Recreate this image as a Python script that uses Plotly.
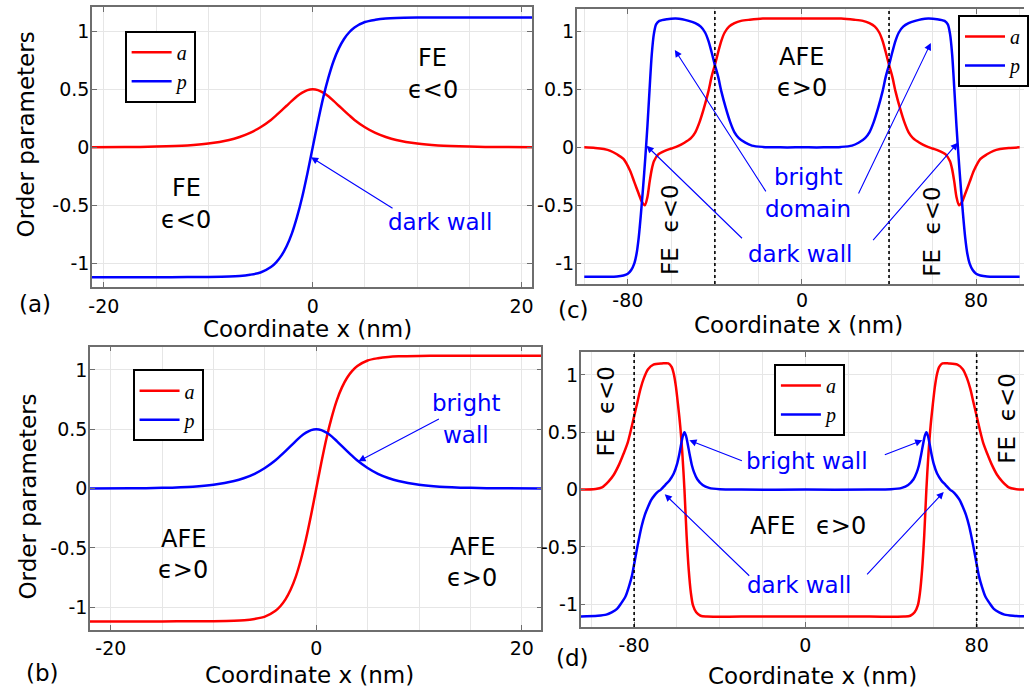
import plotly.graph_objects as go

W, H = 1029, 692
RED = "#ff0000"
BLUE = "#0000ff"
FONT = "DejaVu Sans"
GRID = "#e6e6e6"
AXIS = "#6e6e6e"

# ---------------- panel (a): FE | FE with a dark wall ----------------
x_a = [-21.2, -18, -15, -12, -10, -8, -7, -6, -5, -4, -3.5, -3, -2.5, -2, -1.5, -1, -0.5, 0,
       0.5, 1, 1.5, 2, 2.5, 3, 3.5, 4, 5, 6, 7, 8, 10, 12, 15, 18, 21.2]
a_a = [0.001, 0.002, 0.006, 0.016, 0.032, 0.063, 0.089, 0.124, 0.173, 0.236, 0.275, 0.316, 0.358,
       0.400, 0.440, 0.471, 0.493, 0.500, 0.493, 0.471, 0.440, 0.400, 0.358, 0.316, 0.275, 0.236,
       0.173, 0.124, 0.089, 0.063, 0.032, 0.016, 0.006, 0.002, 0.001]
p_a = [-1.12, -1.12, -1.12, -1.119, -1.118, -1.115, -1.11, -1.099, -1.08, -1.033, -0.992, -0.934,
       -0.853, -0.744, -0.600, -0.426, -0.221, 0.0, 0.221, 0.426, 0.600, 0.744, 0.853, 0.934, 0.992,
       1.033, 1.08, 1.099, 1.11, 1.115, 1.118, 1.119, 1.12, 1.12, 1.12]

# ---------------- panel (b): AFE | AFE with a bright wall ----------------
x_b = [-22.2, -18, -15, -12, -10, -8, -7, -6, -5, -4, -3.5, -3, -2.5, -2, -1.5, -1, -0.5, 0,
       0.5, 1, 1.5, 2, 2.5, 3, 3.5, 4, 5, 6, 7, 8, 10, 12, 15, 18, 22.2]
a_b = [-1.12, -1.12, -1.12, -1.119, -1.118, -1.115, -1.11, -1.099, -1.08, -1.033, -0.992, -0.934,
       -0.853, -0.744, -0.600, -0.426, -0.221, 0.0, 0.221, 0.426, 0.600, 0.744, 0.853, 0.934, 0.992,
       1.033, 1.08, 1.099, 1.11, 1.115, 1.118, 1.119, 1.12, 1.12, 1.12]
p_b = [0.001, 0.002, 0.006, 0.016, 0.032, 0.063, 0.089, 0.124, 0.173, 0.236, 0.275, 0.316, 0.358,
       0.400, 0.440, 0.471, 0.493, 0.500, 0.493, 0.471, 0.440, 0.400, 0.358, 0.316, 0.275, 0.236,
       0.173, 0.124, 0.089, 0.063, 0.032, 0.016, 0.006, 0.002, 0.001]

# ---------------- panel (c): FE | AFE | FE, bright domain ----------------
x_c_a = [-100, -95, -91, -88, -85, -82, -79, -77, -75, -73.5, -72.2, -71, -70, -69, -68, -66, -63,
         -60, -57, -54, -51, -49, -47, -45, -43, -41.5, -40, -38.5, -37, -35.5, -33.5, -31, -28,
         -24, -18, -10, 0, 10, 18, 24, 28, 31, 33.5, 35.5, 37, 38.5, 40, 41.5, 43, 45, 47, 49, 51,
         54, 57, 60, 63, 66, 68, 69, 70, 71, 72.2, 73.5, 75, 77, 79, 82, 85, 88, 91, 95, 100]
a_c = [0.0, -0.005, -0.015, -0.03, -0.06, -0.10, -0.20, -0.30, -0.40, -0.47, -0.50, -0.43, -0.30,
       -0.19, -0.12, -0.06, -0.03, -0.01, 0.01, 0.04, 0.08, 0.13, 0.22, 0.34, 0.48, 0.61, 0.71,
       0.82, 0.92, 0.99, 1.04, 1.07, 1.09, 1.10, 1.11, 1.11, 1.11, 1.11, 1.11, 1.10, 1.09, 1.07,
       1.04, 0.99, 0.92, 0.82, 0.71, 0.61, 0.48, 0.34, 0.22, 0.13, 0.08, 0.04, 0.01, -0.01, -0.03,
       -0.06, -0.12, -0.19, -0.30, -0.43, -0.50, -0.47, -0.40, -0.30, -0.20, -0.10, -0.06, -0.03,
       -0.015, -0.005, 0.0]
x_c_p = [-100, -90, -85, -82, -80, -78.5, -77, -76, -75, -74, -73, -72, -71, -70, -69, -68, -67,
         -65.5, -62, -58, -55, -52, -49, -46.5, -44.5, -43, -41.5, -40, -38.5, -37, -35, -33, -31,
         -29, -26, -23, -18, -10, 0, 10, 18, 23, 26, 29, 31, 33, 35, 37, 38.5, 40, 41.5, 43, 44.5,
         46.5, 49, 52, 55, 58, 62, 65.5, 67, 68, 69, 70, 71, 72, 73, 74, 75, 76, 77, 78.5, 80, 82,
         85, 90, 100]
p_c = [-1.116, -1.116, -1.114, -1.105, -1.09, -1.06, -1.00, -0.92, -0.78, -0.58, -0.35, -0.10,
       0.18, 0.50, 0.80, 0.98, 1.06, 1.09, 1.105, 1.11, 1.105, 1.09, 1.07, 1.04, 0.99, 0.92, 0.82,
       0.71, 0.61, 0.48, 0.34, 0.22, 0.13, 0.08, 0.04, 0.015, 0.004, 0.0, 0.0, 0.0, 0.004, 0.015,
       0.04, 0.08, 0.13, 0.22, 0.34, 0.48, 0.61, 0.71, 0.82, 0.92, 0.99, 1.04, 1.07, 1.09, 1.105,
       1.11, 1.105, 1.09, 1.06, 0.98, 0.80, 0.50, 0.18, -0.10, -0.35, -0.58, -0.78, -0.92, -1.00,
       -1.06, -1.09, -1.105, -1.114, -1.116, -1.116]

# ---------------- panel (d): FE | AFE | FE, bright and dark walls ----------------
x_d_a = [-105, -98, -95, -92, -89.5, -87, -85, -83, -81.5, -80, -78.5, -77, -75.5, -73.5, -71, -67,
         -64, -62.5, -61.5, -60.5, -59.5, -58.5, -57.5, -56.5, -55.5, -54.5, -53.5, -52.5, -51, -49,
         -46, -30, 0, 30, 46, 49, 51, 52.5, 53.5, 54.5, 55.5, 56.5, 57.5, 58.5, 59.5, 60.5, 61.5,
         62.5, 64, 67, 71, 73.5, 75.5, 77, 78.5, 80, 81.5, 83, 85, 87, 89.5, 92, 95, 98, 105]
a_d = [0.0, 0.005, 0.02, 0.07, 0.13, 0.22, 0.31, 0.41, 0.52, 0.64, 0.76, 0.88, 0.97, 1.05, 1.09,
       1.10, 1.10, 1.07, 1.01, 0.90, 0.74, 0.56, 0.32, 0.0, -0.40, -0.70, -0.90, -1.01, -1.07,
       -1.10, -1.107, -1.107, -1.107, -1.107, -1.107, -1.10, -1.07, -1.01, -0.90, -0.70, -0.40,
       0.0, 0.32, 0.56, 0.74, 0.90, 1.01, 1.07, 1.10, 1.10, 1.09, 1.05, 0.97, 0.88, 0.76, 0.64,
       0.52, 0.41, 0.31, 0.22, 0.13, 0.07, 0.02, 0.005, 0.0]
x_d_p = [-105, -97, -93, -90.5, -88, -86, -84, -82.5, -81, -80, -78.5, -76.5, -75, -73.5, -72,
         -70.5, -69, -67.5, -65.5, -63.5, -61.5, -60, -59, -58, -57.2, -56.5, -55.8, -55, -54, -53,
         -52, -50.5, -48, -45, -40, -30, 0, 30, 40, 45, 48, 50.5, 52, 53, 54, 55, 55.8, 56.5, 57.2,
         58, 59, 60, 61.5, 63.5, 65.5, 67.5, 69, 70.5, 72, 73.5, 75, 76.5, 78.5, 80, 81, 82.5, 84,
         86, 88, 90.5, 93, 97, 105]
p_d = [-1.107, -1.10, -1.09, -1.07, -1.04, -0.99, -0.93, -0.85, -0.75, -0.65, -0.50, -0.32, -0.22,
       -0.15, -0.09, -0.05, -0.02, 0.0, 0.04, 0.08, 0.14, 0.22, 0.30, 0.40, 0.47, 0.50, 0.47, 0.40,
       0.30, 0.21, 0.15, 0.09, 0.04, 0.015, 0.003, 0.0, 0.0, 0.0, 0.003, 0.015, 0.04, 0.09, 0.15,
       0.21, 0.30, 0.40, 0.47, 0.50, 0.47, 0.40, 0.30, 0.22, 0.14, 0.08, 0.04, 0.0, -0.02, -0.05,
       -0.09, -0.15, -0.22, -0.32, -0.50, -0.65, -0.75, -0.85, -0.93, -0.99, -1.04, -1.07, -1.09,
       -1.10, -1.107]

# phase boundaries drawn as dotted verticals
walls_c = [-40, 40]
walls_d = [-80, 80]

# tick labels
y_ticks = [-1, -0.5, 0, 0.5, 1]
y_tick_text = ["-1", "-0.5", "0", "0.5", "1"]
x_ticks_short = [-20, 0, 20]
x_ticks_long = [-80, 0, 80]


def fx(px):
    return px / W


def fy(py):
    return 1 - py / H


# subplot frames in pixels (left, right, top, bottom) and axis ranges
frames = {
    "": dict(box=(88.7, 532.7, 7.3, 286.7), xr=[-21.14, 21.0], yr=[-1.202, 1.207],
             xt=x_ticks_short, minor=5, right=True, xstand=2),
    "2": dict(box=(86.7, 542.0, 346.7, 629.7), xr=[-22.03, 21.9], yr=[-1.19, 1.196],
              xt=x_ticks_short, minor=5, right=True, xstand=1),
    "3": dict(box=(577.7, 1029, 9.3, 284.0), xr=[-103.5, 102.0], yr=[-1.178, 1.19],
              xt=x_ticks_long, minor=20, right=False, xstand=-2),
    "4": dict(box=(581.7, 1029, 352.0, 627.0), xr=[-105.0, 102.1], yr=[-1.198, 1.2],
              xt=x_ticks_long, minor=20, right=False, xstand=0),
}

fig = go.Figure()

series = [
    ("", "legend", x_a, a_a, x_a, p_a),
    ("2", "legend2", x_b, a_b, x_b, p_b),
    ("3", "legend3", x_c_a, a_c, x_c_p, p_c),
    ("4", "legend4", x_d_a, a_d, x_d_p, p_d),
]
for sfx, leg, xa, ya, xp, yp in series:
    fig.add_trace(go.Scatter(x=xa, y=ya, name="a", mode="lines", legend=leg,
                             line=dict(color=RED, width=2.5, shape="spline", smoothing=0.8),
                             xaxis="x" + sfx, yaxis="y" + sfx))
    fig.add_trace(go.Scatter(x=xp, y=yp, name="p", mode="lines", legend=leg,
                             line=dict(color=BLUE, width=2.5, shape="spline", smoothing=0.8),
                             xaxis="x" + sfx, yaxis="y" + sfx))

tickfont = dict(family=FONT, size=19, color="black")
layout_axes = {}
for sfx, f in frames.items():
    l, r, t, b = f["box"]
    layout_axes["xaxis" + sfx] = dict(
        domain=[fx(l), fx(r)], range=f["xr"], anchor="y" + sfx,
        tickvals=f["xt"], ticktext=[str(v) for v in f["xt"]],
        ticks="inside", ticklen=5, tickcolor=AXIS, tickwidth=1,
        showline=True, linecolor=AXIS, linewidth=1.5, mirror="ticks",
        showgrid=True, gridcolor=GRID, gridwidth=1, zeroline=False,
        minor=dict(dtick=f["minor"], tick0=0, showgrid=True, gridcolor=GRID, ticks=""),
        tickfont=tickfont, ticklabelstandoff=f["xstand"], fixedrange=True,
    )
    layout_axes["yaxis" + sfx] = dict(
        domain=[fy(b), fy(t)], range=f["yr"], anchor="x" + sfx,
        tickvals=y_ticks, ticktext=y_tick_text,
        ticks="inside", ticklen=5, tickcolor=AXIS, tickwidth=1,
        showline=True, linecolor=AXIS, linewidth=1.5,
        mirror="ticks" if f["right"] else False,
        showgrid=True, gridcolor=GRID, gridwidth=1, zeroline=False,
        tickfont=tickfont, ticklabelstandoff=-3, fixedrange=True,
    )

shapes = []
for sfx, walls in (("3", walls_c), ("4", walls_d)):
    for xv in walls:
        shapes.append(dict(type="line", xref="x" + sfx, yref="y" + sfx + " domain",
                           x0=xv, x1=xv, y0=0, y1=1,
                           line=dict(color="black", width=1.6, dash="dot")))

ann = []


def text(sfx, x, y, s, color="black", size=23, angle=0):
    ann.append(dict(xref="x" + sfx, yref="y" + sfx, x=x, y=y, text=s, showarrow=False,
                    textangle=angle, font=dict(family=FONT, size=size, color=color),
                    xanchor="center", yanchor="middle"))


def arrow(sfx, x, y, dx, dy):
    ann.append(dict(xref="x" + sfx, yref="y" + sfx, x=x, y=y, text="", showarrow=True,
                    ax=dx, ay=dy, arrowhead=2, arrowsize=1.3, arrowwidth=1.1,
                    arrowcolor=BLUE, standoff=0))


def page_text(px, py, s, size=23, angle=0):
    ann.append(dict(xref="paper", yref="paper", x=fx(px), y=fy(py), text=s, showarrow=False,
                    textangle=angle, font=dict(family=FONT, size=size, color="black"),
                    xanchor="center", yanchor="middle"))


EPS_NEG = "\u03f5<0"
EPS_POS = "\u03f5>0"
SP = "\u00a0\u00a0"

# (a)
text("", 11.5, 0.767, "FE", size=24)
text("", 11.5, 0.494, EPS_NEG, size=24)
text("", -12.1, -0.353, "FE", size=24)
text("", -12.1, -0.627, EPS_NEG, size=24)
text("", 12.2, -0.641, "dark wall", color=BLUE)
arrow("", -0.16, -0.086, 83, 52)

# (b)
text("2", 14.6, 0.72, "bright", color=BLUE)
text("2", 14.6, 0.452, "wall", color=BLUE)
text("2", -12.96, -0.426, "AFE", size=24)
text("2", -12.96, -0.685, EPS_POS, size=24)
text("2", 15.2, -0.494, "AFE", size=24)
text("2", 15.2, -0.755, EPS_POS, size=24)
arrow("2", 4.1, 0.23, 82, -43)

# (c)
text("3", 0, 0.78, "AFE", size=24)
text("3", 0, 0.509, EPS_POS, size=24)
text("3", 3.0, -0.253, "bright", color=BLUE)
text("3", 2.7, -0.534, "domain", color=BLUE)
text("3", -0.8, -0.922, "dark wall", color=BLUE)
text("3", -60.7, -0.713, "FE" + SP + EPS_NEG, angle=-90)
text("3", 59.65, -0.73, "FE" + SP + EPS_NEG, angle=-90)
arrow("3", -58.4, 0.84, 92, 143)
arrow("3", 59.2, 0.90, -73, 152)
arrow("3", -71.4, 0.014, 97, 94)
arrow("3", 71.6, 0.04, -86, 99)

# (d)
text("4", 0.9, 0.253, "bright wall", color=BLUE)
text("4", -15.6, -0.314, "AFE", size=24)
text("4", 16.8, -0.314, EPS_POS, size=24)
text("4", -2.8, -0.831, "dark wall", color=BLUE)
text("4", -93.2, 0.68, "FE" + SP + EPS_NEG, angle=-90)
text("4", 94.0, 0.616, "FE" + SP + EPS_NEG, angle=-90)
arrow("4", -54.2, 0.43, 54, 21)
arrow("4", 54.6, 0.43, -39, 15)
arrow("4", -65.7, -0.04, 86, 83)
arrow("4", 64.6, -0.02, -78, 84)

# axis titles and panel letters
page_text(22.4, 134.2, "Order parameters", angle=-90)
page_text(24.0, 496.7, "Order parameters", angle=-90)
page_text(305.7, 329.5, "Coordinate x (nm)")
page_text(802.0, 325.0, "Coordinate x (nm)")
page_text(308.0, 675.0, "Coordinate x (nm)")
page_text(816.0, 675.5, "Coordinate x (nm)")
page_text(31.3, 304.0, "(a)")
page_text(39.0, 673.3, "(b)")
page_text(574.7, 310.0, "(c)")
page_text(574.0, 658.3, "(d)")

legend_style = dict(xanchor="left", yanchor="top", bgcolor="white", bordercolor="black",
                    borderwidth=2, itemwidth=40, tracegroupgap=0,
                    font=dict(family="Liberation Serif", size=20, style="italic", color="black"))
legends = {
    "legend": dict(x=fx(121.7), y=fy(30.7), **legend_style),
    "legend2": dict(x=fx(129.7), y=fy(369.3), **legend_style),
    "legend3": dict(x=fx(962.7), y=fy(15.0), **legend_style),
    "legend4": dict(x=fx(776.7), y=fy(364.0), **legend_style),
}

fig.update_layout(
    width=W, height=H, margin=dict(l=0, r=0, t=0, b=0),
    paper_bgcolor="white", plot_bgcolor="white",
    showlegend=True, shapes=shapes, annotations=ann,
    **layout_axes, **legends,
)

fig.write_html("out.html")
